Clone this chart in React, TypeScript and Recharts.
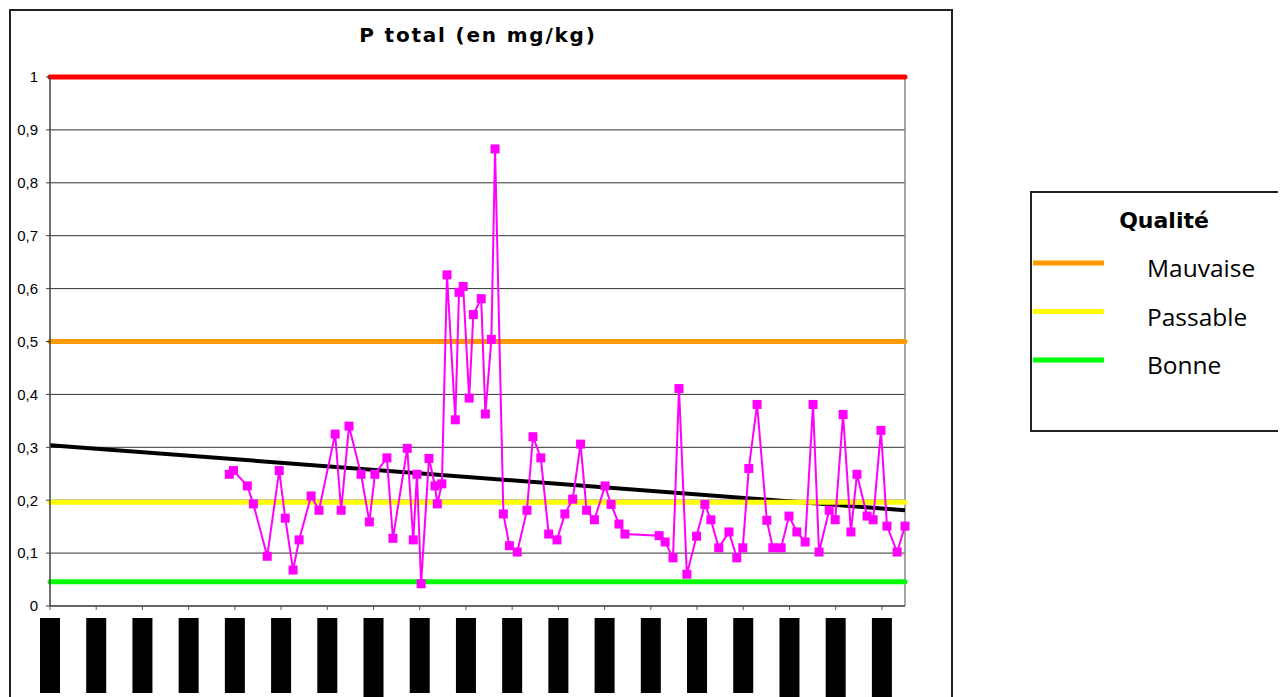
import React from 'react';
import { LineChart, Line, XAxis, YAxis, CartesianGrid, ReferenceLine } from 'recharts';

// Sampling dates, expressed as a time index (one unit = one x-axis tick interval)
const periods = [
  3.88, 3.97, 4.27, 4.40, 4.70, 4.96, 5.09, 5.26, 5.39, 5.65,
  5.82, 6.17, 6.30, 6.47, 6.73, 6.91, 7.03, 7.29, 7.42, 7.73,
  7.86, 7.94, 8.03, 8.20, 8.33, 8.38, 8.48, 8.59, 8.77, 8.85,
  8.94, 9.07, 9.16, 9.33, 9.42, 9.55, 9.63, 9.81, 9.94, 10.11,
  10.32, 10.45, 10.62, 10.79, 10.97, 11.14, 11.31, 11.48, 11.61, 11.78,
  12.01, 12.14, 12.31, 12.44, 13.18, 13.31, 13.48, 13.61, 13.78, 13.99,
  14.17, 14.30, 14.47, 14.69, 14.86, 14.99, 15.12, 15.30, 15.51, 15.64,
  15.82, 15.99, 16.16, 16.34, 16.51, 16.64, 16.86, 16.99, 17.16, 17.33,
  17.46, 17.68, 17.81, 17.98, 18.11, 18.33, 18.5,
];

// P total (mg/kg)
const pTotal = [
  0.249, 0.256, 0.227, 0.193, 0.094, 0.256, 0.166, 0.068, 0.125, 0.208,
  0.181, 0.325, 0.181, 0.340, 0.249, 0.159, 0.249, 0.280, 0.128, 0.298,
  0.125, 0.249, 0.042, 0.279, 0.227, 0.193, 0.231, 0.626, 0.352, 0.593,
  0.604, 0.393, 0.551, 0.581, 0.363, 0.504, 0.864, 0.174, 0.114, 0.102,
  0.181, 0.320, 0.280, 0.136, 0.125, 0.174, 0.202, 0.306, 0.181, 0.163,
  0.227, 0.192, 0.155, 0.136, 0.133, 0.121, 0.091, 0.411, 0.060, 0.132,
  0.192, 0.163, 0.110, 0.140, 0.091, 0.110, 0.260, 0.381, 0.162, 0.110,
  0.110, 0.170, 0.140, 0.121, 0.381, 0.102, 0.181, 0.163, 0.362, 0.140,
  0.249, 0.170, 0.163, 0.332, 0.151, 0.102, 0.151,
];

const xTicks = [0, 1, 2, 3, 4, 5, 6, 7, 8, 9, 10, 11, 12, 13, 14, 15, 16, 17, 18];
const yTicks = [0, 0.1, 0.2, 0.3, 0.4, 0.5, 0.6, 0.7, 0.8, 0.9, 1];
const xDomain = [0, 18.5];

// Quality thresholds
const thresholdTresMauvaise = 1;
const thresholdMauvaise = 0.5;
const thresholdPassable = 0.196;
const thresholdBonne = 0.046;

// Linear trend (start / end values)
const trendX = [0, 18.5];
const trendY = [0.304, 0.181];

const qualityLabels = ['Mauvaise', 'Passable', 'Bonne'];
const legendTitle = 'Qualité';
const chartTitle = 'P total (en mg/kg)';

const data = periods.map((t, i) => ({ t, p: pTotal[i] }));
const trendData = trendX.map((t, i) => ({ t, v: trendY[i] }));
const flat = (v: number) => xDomain.map((t) => ({ t, v }));

const COLORS = {
  red: '#FF0000',
  orange: '#FF9900',
  yellow: '#FFFF00',
  green: '#00FF00',
  magenta: '#FF00FF',
};
const legendColors = [COLORS.orange, COLORS.yellow, COLORS.green];
const longTickIdx = new Set([7, 16, 17, 18]);

const SquareDot = (props: any) => {
  const { cx, cy, index } = props;
  if (cx == null || cy == null) return null;
  return <rect key={`d${index}`} x={cx - 4.5} y={cy - 4.5} width={9} height={9} fill={COLORS.magenta} />;
};

const BarTick = (props: any) => {
  const { x, y, index } = props;
  const h = longTickIdx.has(index) ? 82 : 75;
  return (
    <g>
      <rect x={x - 10} y={y} width={20} height={h} fill="#000" />
    </g>
  );
};

export default function App() {
  const W = 1278;
  const H = 689;
  return (
    <div style={{ position: 'relative', width: W, height: H, overflow: 'hidden' }}>
      <LineChart
        width={W}
        height={H}
        data={data}
        margin={{ top: 69, right: 381, bottom: 0, left: 12 }}
      >
        <CartesianGrid vertical={false} stroke="#333" strokeWidth={1} />
        <XAxis
          dataKey="t"
          type="number"
          domain={xDomain}
          ticks={xTicks}
          height={91}
          tickSize={4}
          tickMargin={8}
          axisLine={{ stroke: '#555', strokeWidth: 1.5 }}
          tickLine={{ stroke: '#555' }}
          tick={<BarTick />}
          interval={0}
        />
        <YAxis
          type="number"
          domain={[0, 1]}
          ticks={yTicks}
          width={30}
          tickSize={4}
          tickMargin={8}
          axisLine={{ stroke: '#404040', strokeWidth: 1.5 }}
          tickLine={{ stroke: '#404040' }}
          tick={{ fill: '#000', fontSize: 15, fontFamily: 'Liberation Sans, Arial, sans-serif' }}
          tickFormatter={(v: number) => String(v).replace('.', ',')}
          interval={0}
        />
        <ReferenceLine x={18.5} stroke="#888" strokeWidth={1.5} />
        <Line
          data={trendData}
          dataKey="v"
          stroke="#000"
          strokeWidth={4}
          dot={false}
          activeDot={false}
          isAnimationActive={false}
        />
        <Line
          data={flat(thresholdBonne)}
          dataKey="v"
          stroke={COLORS.green}
          strokeWidth={5}
          strokeLinecap="round"
          dot={false}
          activeDot={false}
          isAnimationActive={false}
        />
        <Line
          data={flat(thresholdPassable)}
          dataKey="v"
          stroke={COLORS.yellow}
          strokeWidth={5}
          strokeLinecap="round"
          dot={false}
          activeDot={false}
          isAnimationActive={false}
        />
        <Line
          data={flat(thresholdMauvaise)}
          dataKey="v"
          stroke={COLORS.orange}
          strokeWidth={5}
          strokeLinecap="round"
          dot={false}
          activeDot={false}
          isAnimationActive={false}
        />
        <Line
          dataKey="p"
          stroke={COLORS.magenta}
          strokeWidth={2}
          dot={<SquareDot />}
          activeDot={false}
          isAnimationActive={false}
        />
        <Line
          data={flat(thresholdTresMauvaise)}
          dataKey="v"
          stroke={COLORS.red}
          strokeWidth={5}
          strokeLinecap="round"
          dot={false}
          activeDot={false}
          isAnimationActive={false}
        />
      </LineChart>
      <svg
        width={W}
        height={H}
        style={{ position: 'absolute', left: 0, top: 0, pointerEvents: 'none' }}
      >
        <rect x={2} y={2} width={942} height={760} fill="none" stroke="#222" strokeWidth={2} />
        <text
          x={470}
          y={34}
          textAnchor="middle"
          fontFamily="DejaVu Sans, Verdana, sans-serif"
          fontWeight="bold"
          fontSize={20}
          letterSpacing={1.8}
          fill="#000"
        >
          {chartTitle}
        </text>
        <rect x={1023} y={184} width={320} height={239} fill="#fff" stroke="#222" strokeWidth={2} />
        <text
          x={1156}
          y={220}
          textAnchor="middle"
          fontFamily="DejaVu Sans, Verdana, sans-serif"
          fontWeight="bold"
          fontSize={22}
          fill="#000"
        >
          {legendTitle}
        </text>
        {qualityLabels.map((label, i) => (
          <g key={label}>
            <line
              x1={1025}
              x2={1096}
              y1={255 + i * 48.5}
              y2={255 + i * 48.5}
              stroke={legendColors[i]}
              strokeWidth={5}
            />
            <text
              x={1139}
              y={269 + i * 48.5}
              fontFamily="Open Sans, Noto Sans, sans-serif"
              fontSize={24.5}
              fill="#000"
            >
              {label}
            </text>
          </g>
        ))}
      </svg>
    </div>
  );
}
